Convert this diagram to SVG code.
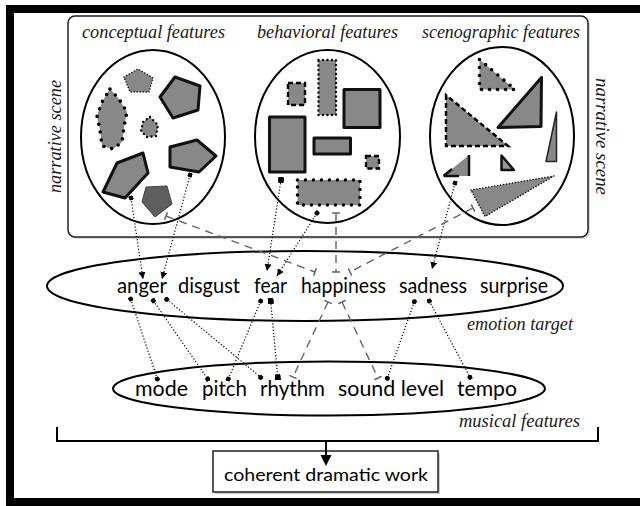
<svg xmlns="http://www.w3.org/2000/svg" width="640" height="506" viewBox="0 0 640 506">
<style>
.lbl{font-family:"Liberation Serif",serif;font-style:italic;font-size:18px;fill:#1a1a1a}
.w{font-family:Lato,"Liberation Sans",sans-serif;font-size:22px;fill:#000}
.ell{fill:none;stroke:#000;stroke-width:2}
.sh{fill:#888}
.thick{stroke:#111;stroke-width:3;stroke-linejoin:round}
.thin{stroke:#222;stroke-width:1.5;stroke-linejoin:round}
.bigdots{stroke:#000;stroke-width:3.6;stroke-dasharray:0 8;stroke-linecap:round}
.smdots{stroke:#000;stroke-width:2.4;stroke-dasharray:0 4.5;stroke-linecap:round}
.fdots{stroke:#000;stroke-width:1.6;stroke-dasharray:0 3;stroke-linecap:round}
.dash{stroke:#000;stroke-width:2.4;stroke-dasharray:5 3}
.dot{fill:none;stroke:#000;stroke-width:1.2;stroke-dasharray:1.2 2}
.dsh{fill:none;stroke:#5b6575;stroke-width:1.4;stroke-dasharray:8 6}
</style>
<defs>
<marker id="arr" viewBox="0 0 8 8" refX="8" refY="4" markerWidth="7" markerHeight="7" markerUnits="userSpaceOnUse" orient="auto"><path d="M0,0L8,4L0,8z" fill="#000"/></marker>
<marker id="dt" viewBox="-3 -3 6 6" refX="0" refY="0" markerWidth="5" markerHeight="5" markerUnits="userSpaceOnUse" orient="auto"><circle r="3" fill="#000"/></marker>
<marker id="sq" viewBox="-3 -3 6 6" refX="0" refY="0" markerWidth="6" markerHeight="6" markerUnits="userSpaceOnUse" orient="auto"><rect x="-3" y="-3" width="6" height="6" fill="#000"/></marker>
<marker id="tee" viewBox="-4 -4 8 8" refX="0" refY="0" markerWidth="8" markerHeight="8" markerUnits="userSpaceOnUse" orient="auto"><path d="M0,-4L0,4" stroke="#5b6575" stroke-width="1.5"/></marker>
</defs>
<rect width="640" height="506" fill="#fff"/>
<!-- frame -->
<rect x="6" y="5" width="634" height="8" fill="#000"/>
<rect x="6" y="5" width="8" height="501" fill="#000"/>
<rect x="6" y="498" width="634" height="8" fill="#000"/>

<g id="narrative-scene">
<rect x="70" y="18" width="520" height="221" rx="7" fill="#d8d8d8"/>
<rect x="68" y="16" width="520" height="221" rx="7" fill="#fff" stroke="#222" stroke-width="1.5"/>
<text class="lbl" transform="translate(61,193) rotate(-90)" textLength="113" lengthAdjust="spacingAndGlyphs">narrative scene</text>
<text class="lbl" transform="translate(596,78) rotate(90)" textLength="117" lengthAdjust="spacingAndGlyphs">narrative scene</text>
</g>

<g id="conceptual-features">
<text class="lbl" x="82" y="38" textLength="143" lengthAdjust="spacingAndGlyphs">conceptual features</text>
<ellipse class="ell" cx="153" cy="137" rx="72" ry="87"/>
<polygon class="sh fdots" points="124,77 138,69 153,78 149,92 130,92"/>
<polygon class="sh thick" points="160,97 175,77 200,86 198,110 173,118"/>
<polygon class="sh bigdots" points="110,89 119,99 127,112 124,127 122,142 113,149 102,146 100,130 97,116 102,102"/>
<polygon class="sh smdots" points="150,117 158,125 156,136 147,137 141,131 143,122"/>
<polygon class="sh thick" points="117,163 143,153 148,173 125,198 103,192"/>
<polygon class="sh thick" points="170,147 197,140 216,156 199,172 170,167"/>
<polygon fill="#5e5e5e" stroke="#444" stroke-width="1" points="146,187 167,186 172,204 155,217 142,202"/>
</g>

<g id="behavioral-features">
<text class="lbl" x="257" y="38" textLength="141" lengthAdjust="spacingAndGlyphs">behavioral features</text>
<ellipse class="ell" cx="327.5" cy="136.5" rx="72.5" ry="86.5"/>
<rect class="sh dash" x="288" y="83" width="17" height="22"/>
<rect class="sh smdots" x="318.5" y="60" width="17.5" height="55"/>
<rect class="sh thick" x="344" y="89.5" width="36" height="38"/>
<rect class="sh thick" x="269.5" y="117" width="35.5" height="55"/>
<rect class="sh thick" x="314" y="138" width="36.5" height="16"/>
<rect class="sh dash" x="366" y="156" width="13" height="12.5"/>
<rect class="sh bigdots" x="297.5" y="180" width="62.5" height="25"/>
</g>

<g id="scenographic-features">
<text class="lbl" x="422" y="38" textLength="158" lengthAdjust="spacingAndGlyphs">scenographic features</text>
<ellipse class="ell" cx="502" cy="136" rx="72" ry="89"/>
<polygon class="sh bigdots" points="479.5,59.5 479.5,89.5 515,89.5"/>
<polygon class="sh dash" points="446,95 446,146 508,146"/>
<polygon class="sh thick" points="498,127.5 541.5,77.5 541,126.5"/>
<polygon class="sh thin" points="556.5,112 546,161.5 556.5,161.5"/>
<polygon class="sh" points="469,155 443.5,176 469,176"/>
<path d="M469,155 L469,176 M443.5,176 L459,176 M443.5,176 L452,169" fill="none" stroke="#111" stroke-width="2.5"/>
<polygon fill="#999" stroke="#111" stroke-width="2.5" stroke-linejoin="round" points="501.5,155.5 501.5,170 514,170"/>
<polygon class="sh fdots" points="471,190 554,176 485,216.5"/>
</g>

<g id="emotion-target">
<ellipse class="ell" cx="305" cy="286" rx="258" ry="35"/>
<text class="w" x="117" y="293" textLength="50" lengthAdjust="spacingAndGlyphs">anger</text>
<text class="w" x="178" y="293" textLength="62" lengthAdjust="spacingAndGlyphs">disgust</text>
<text class="w" x="254" y="293" textLength="33" lengthAdjust="spacingAndGlyphs">fear</text>
<text class="w" x="301" y="293" textLength="85" lengthAdjust="spacingAndGlyphs">happiness</text>
<text class="w" x="399" y="293" textLength="68" lengthAdjust="spacingAndGlyphs">sadness</text>
<text class="w" x="480" y="293" textLength="68" lengthAdjust="spacingAndGlyphs">surprise</text>
<text class="lbl" x="467" y="330" textLength="106" lengthAdjust="spacingAndGlyphs">emotion target</text>
</g>

<g id="musical-features">
<ellipse class="ell" cx="329" cy="388.5" rx="216" ry="27"/>
<text class="w" x="135" y="396" textLength="53" lengthAdjust="spacingAndGlyphs">mode</text>
<text class="w" x="202" y="396" textLength="45" lengthAdjust="spacingAndGlyphs">pitch</text>
<text class="w" x="260" y="396" textLength="65" lengthAdjust="spacingAndGlyphs">rhythm</text>
<text class="w" x="338" y="396" textLength="106" lengthAdjust="spacingAndGlyphs">sound level</text>
<text class="w" x="457" y="396" textLength="60" lengthAdjust="spacingAndGlyphs">tempo</text>
<text class="lbl" x="459" y="427" textLength="121" lengthAdjust="spacingAndGlyphs">musical features</text>
<path d="M57,427 L57,441 L598,441 L598,427" fill="none" stroke="#000" stroke-width="2"/>
</g>

<g id="coherent-dramatic-work">
<rect x="215" y="453" width="225" height="41" fill="#ccc"/>
<rect x="213" y="451" width="225" height="41" fill="#fff" stroke="#222" stroke-width="1.5"/>
<text x="224" y="481" font-family="Lato,'Liberation Sans',sans-serif" font-size="18" textLength="204" lengthAdjust="spacingAndGlyphs">coherent dramatic work</text>
</g>

<g id="connectors">
<!-- scene to emotions -->
<line class="dot" x1="131" y1="198" x2="143" y2="279" marker-start="url(#dt)" marker-end="url(#arr)"/>
<line class="dot" x1="190" y1="175" x2="162" y2="279" marker-start="url(#dt)" marker-end="url(#arr)"/>
<line class="dot" x1="281" y1="180" x2="267" y2="271" marker-start="url(#sq)" marker-end="url(#arr)"/>
<line class="dot" x1="317" y1="213" x2="277" y2="276" marker-start="url(#dt)" marker-end="url(#arr)"/>
<line class="dot" x1="455" y1="183" x2="432" y2="269" marker-start="url(#dt)" marker-end="url(#arr)"/>
<!-- dashed inhibitory -->
<line class="dsh" x1="166" y1="216" x2="315" y2="272" marker-start="url(#tee)" marker-end="url(#tee)"/>
<line class="dsh" x1="336" y1="213" x2="336" y2="272" marker-start="url(#tee)" marker-end="url(#tee)"/>
<line class="dsh" x1="473" y1="208" x2="350" y2="272" marker-start="url(#tee)" marker-end="url(#tee)"/>
<line class="dsh" x1="328" y1="302" x2="293" y2="377" marker-start="url(#tee)" marker-end="url(#tee)"/>
<line class="dsh" x1="342" y1="302" x2="378" y2="378" marker-start="url(#tee)" marker-end="url(#tee)"/>
<!-- emotions to musical features -->
<line class="dot" x1="130.7" y1="299" x2="157.3" y2="379" marker-start="url(#dt)" marker-end="url(#dt)"/>
<line class="dot" x1="153.3" y1="300.7" x2="207.7" y2="379" marker-start="url(#dt)" marker-end="url(#dt)"/>
<line class="dot" x1="166.7" y1="299.3" x2="260.7" y2="377.3" marker-start="url(#dt)" marker-end="url(#dt)"/>
<line class="dot" x1="260.7" y1="301" x2="228.3" y2="379" marker-start="url(#dt)" marker-end="url(#dt)"/>
<line class="dot" x1="270.7" y1="301" x2="277.7" y2="377.3" marker-start="url(#sq)" marker-end="url(#sq)"/>
<line class="dot" x1="414.3" y1="301.7" x2="387.3" y2="378.3" marker-start="url(#dt)" marker-end="url(#dt)"/>
<line class="dot" x1="429.3" y1="301" x2="470" y2="377.3" marker-start="url(#dt)" marker-end="url(#dt)"/>
<!-- to coherent work -->
<line x1="326" y1="441" x2="326" y2="458" stroke="#000" stroke-width="2"/>
<path d="M320.5,455 L331.5,455 L326,466 z" fill="#000"/>
</g>
</svg>
